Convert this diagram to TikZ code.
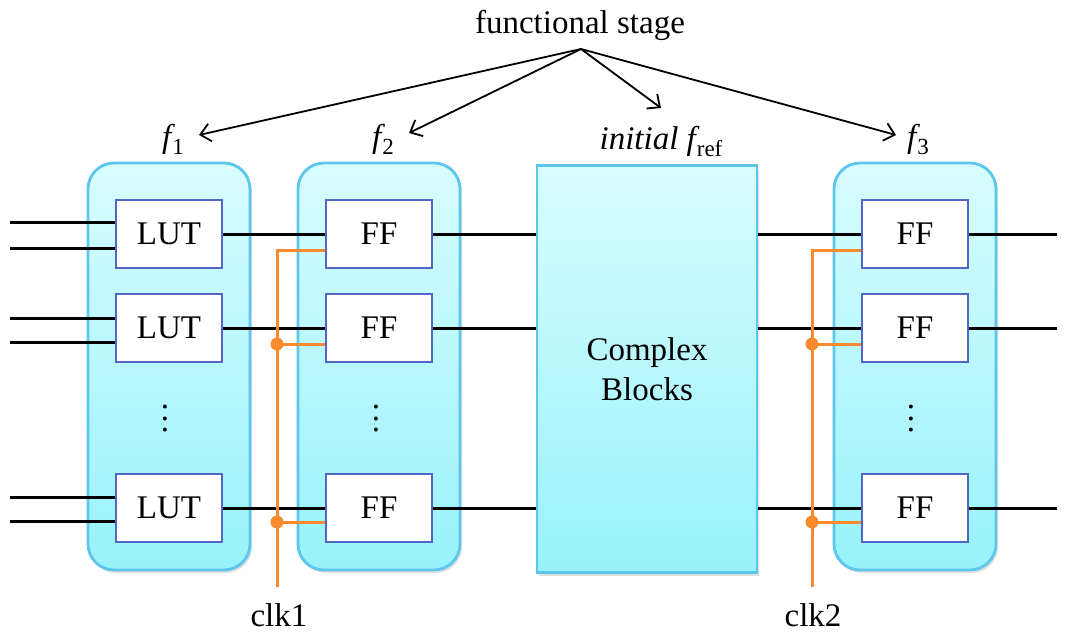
\documentclass[tikz,border=0pt]{standalone}
\usepackage{fontspec}
\setmainfont{Liberation Serif}
\usetikzlibrary{arrows.meta,shadows,calc}
\definecolor{stageedge}{HTML}{5CC6EC}
\definecolor{stagetop}{HTML}{D8FDFF}
\definecolor{stagebot}{HTML}{98F2FB}
\definecolor{blkedge}{HTML}{5266C8}
\definecolor{clkcol}{HTML}{F98A2E}
% italic f with an upright, lowered index
\newcommand{\fsub}[1]{{\itshape f}\kern1pt\raisebox{-7pt}{\fontsize{23}{25}\selectfont #1}}
\begin{document}
\begin{tikzpicture}[x=1pt,y=-1pt,
  every node/.style={font=\fontsize{33}{38}\selectfont},
  stage/.style={draw=stageedge, line width=2.8pt, top color=stagetop, bottom color=stagebot,
    rounded corners=26pt, minimum width=162pt, minimum height=407pt, inner sep=0pt,
    drop shadow={opacity=0.25, shadow xshift=2pt, shadow yshift=-3pt}},
  cplx/.style={draw=stageedge, line width=2.8pt, top color=stagetop, bottom color=stagebot,
    minimum width=220pt, minimum height=407pt, inner sep=0pt, align=center,
    drop shadow={opacity=0.25, shadow xshift=2pt, shadow yshift=-3pt}},
  cell/.style={draw=blkedge, line width=2.8pt, fill=white, minimum width=106pt,
    minimum height=68pt, inner sep=0pt},
  wire/.style={line width=3pt, black},
  clk/.style={line width=3pt, clkcol},
  tap/.style={fill=clkcol},
  pointer/.style={line width=1.8pt, -{Straight Barb[length=10pt,width=18pt,line width=1.8pt]}},
  vdots/.style={align=center, inner sep=0pt, font=\fontsize{33}{11.5}\selectfont}
]
\useasboundingbox (0,0) rectangle (1067,632);

% stage containers
\node[stage] (s1) at (169,366.5) {};
\node[stage] (s2) at (379,366.5) {};
\node[cplx]  (cb) at (647,369) {Complex\\[2pt]Blocks};
\node[stage] (s3) at (915,366.5) {};

% LUTs of stage f1
\node[cell] (l1) at (169,234) {LUT};
\node[cell] (l2) at (169,328) {LUT};
\node[cell] (l3) at (169,508) {LUT};
\node[vdots] (d1) at (165,419) {.\\.\\.};

% flip-flops of stage f2
\node[cell] (a1) at (379,234) {FF};
\node[cell] (a2) at (379,328) {FF};
\node[cell] (a3) at (379,508) {FF};
\node[vdots] (d2) at (376,419) {.\\.\\.};

% flip-flops of stage f3
\node[cell] (b1) at (915,234) {FF};
\node[cell] (b2) at (915,328) {FF};
\node[cell] (b3) at (915,508) {FF};
\node[vdots] (d3) at (911,419) {.\\.\\.};

% primary inputs into the LUTs
\foreach \r/\ya/\yb in {1/222/248, 2/318/342, 3/497/521}{
  \coordinate (ina\r) at (10,\ya);
  \coordinate (inb\r) at (10,\yb);
  \draw[wire] (ina\r) -- (ina\r -| l\r.west);
  \draw[wire] (inb\r) -- (inb\r -| l\r.west);
}

% data path between stages
\foreach \r in {1,2,3}{
  \draw[wire] (l\r.east) -- (a\r.west);
  \draw[wire] (a\r.east) -- (cb.west |- a\r.east);
  \draw[wire] (cb.east |- b\r.west) -- (b\r.west);
  \coordinate (out\r) at (1057,0 |- b\r.east);
  \draw[wire] (b\r.east) -- (out\r -| 1057,0);
}

% clock trees
\coordinate (c1top) at (277,250);
\coordinate (c1bot) at (277,587);
\coordinate (c2top) at (812,250);
\coordinate (c2bot) at (812,587);
\draw[clk] (c1bot) -- (c1top) -- (c1top -| a1.west);
\draw[clk] (c2bot) -- (c2top) -- (c2top -| b1.west);
\foreach \y/\r in {344/2, 522/3}{
  \coordinate (t1\r) at (277,\y);
  \coordinate (t2\r) at (812,\y);
  \fill[tap] (t1\r) circle (6.5pt);
  \fill[tap] (t2\r) circle (6.5pt);
  \draw[clk] (t1\r) -- (t1\r -| a\r.west);
  \draw[clk] (t2\r) -- (t2\r -| b\r.west);
}
\node[anchor=base] (clk1) at (279,626) {clk1};
\node[anchor=base] (clk2) at (813,626) {clk2};

% stage labels
\node[anchor=base] (f1) at (173,147) {\fsub{1}};
\node[anchor=base] (f2) at (383,147) {\fsub{2}};
\node[anchor=base] (fr) at (661,149) {\textit{initial} \fsub{ref}};
\node[anchor=base] (f3) at (918,147) {\fsub{3}};
\node[anchor=base] (fs) at (580,33) {functional stage};

% pointers from the heading to each stage
\coordinate (hub) at (581,49);
\coordinate (p1) at (199,135);
\coordinate (p2) at (409,133);
\coordinate (pr) at (661,108);
\coordinate (p3) at (896,135);
\foreach \p in {p1,p2,pr,p3}{
  \draw[pointer] (hub) -- (\p);
}
\end{tikzpicture}
\end{document}
